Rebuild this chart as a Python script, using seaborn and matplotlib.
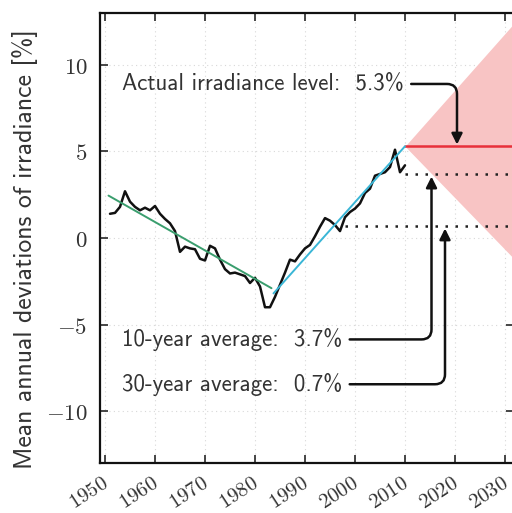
import matplotlib
matplotlib.use("Agg")
import matplotlib.pyplot as plt
import matplotlib.transforms as mtransforms
import seaborn as sns
import numpy as np
import pandas as pd

# ---- data ----
years = list(range(1951, 2011))
irradiance = [1.4, 1.45, 1.8, 2.7, 2.1, 1.8, 1.6, 1.75, 1.6, 1.85,
              1.4, 1.1, 0.85, 0.4, -0.8, -0.5, -0.6, -0.65, -1.2, -1.3,
              -0.45, -0.6, -1.25, -1.8, -2.05, -2.0, -2.1, -2.2, -2.6, -2.3,
              -2.8, -4.0, -4.0, -3.4, -2.7, -2.0, -1.25, -1.35, -0.95, -0.6,
              -0.4, 0.1, 0.65, 1.15, 1.0, 0.75, 0.4, 1.2, 1.5, 1.7,
              2.0, 2.6, 2.85, 3.6, 3.7, 3.8, 4.1, 5.1, 3.8, 4.2]
trend1_years = [1950.7, 1983.3]
trend1_vals = [2.45, -2.9]
trend2_years = [1983.7, 2010.0]
trend2_vals = [-3.2, 5.3]
fan_years = [2010.0, 2031.8]
fan_upper = [5.3, 12.4]
fan_lower = [5.3, -1.2]
actual_level = 5.3
avg10 = 3.7
avg10_start = 2010.0
avg30 = 0.7
avg30_start = 1998.0
xticks = [1950, 1960, 1970, 1980, 1990, 2000, 2010, 2020, 2030]
yticks = [-10, -5, 0, 5, 10]
labels = ["Actual irradiance level:  5.3%", "10-year average:  3.7%", "30-year average:  0.7%"]

df = pd.DataFrame({"year": years, "value": irradiance})

sns.set_style("ticks")
plt.rcParams["mathtext.fontset"] = "cm"

fig = plt.figure(figsize=(5.12, 5.13), dpi=100)
ax = fig.add_axes([100 / 512, 50 / 513, 414 / 512, 450 / 513])
xmax = 2031.8
ax.set_xlim(1949, xmax)
ax.set_ylim(-13, 13)

# grid
for t in xticks:
    ax.axvline(t, color="#d8d8d8", lw=0.8, ls=(0, (1, 3)), zorder=0)
for t in yticks:
    ax.axhline(t, color="#d8d8d8", lw=0.8, ls=(0, (1, 3)), zorder=0)

# fan
ax.fill_between(fan_years, fan_lower, fan_upper, color="#f8c4c4", lw=0, zorder=1)
ax.plot([fan_years[0], xmax], [actual_level, actual_level], color="#e8303a", lw=1.8, zorder=3)
ax.plot([avg10_start, xmax], [avg10, avg10], color="#222222", lw=1.8, ls=(0, (1, 3)), zorder=3)
ax.plot([avg30_start, xmax], [avg30, avg30], color="#222222", lw=1.8, ls=(0, (1, 3)), zorder=3)

sns.lineplot(data=df, x="year", y="value", color="#111111", lw=1.8, ax=ax, zorder=4)
sns.lineplot(x=trend1_years, y=trend1_vals, color="#3a9e6e", lw=1.4, ax=ax, zorder=5)
sns.lineplot(x=trend2_years, y=trend2_vals, color="#3ab6d6", lw=1.4, ax=ax, zorder=5)

# annotations
tfont = dict(family=["cmss10", "DejaVu Sans"], fontsize=16.5, color="#333333")
ap = dict(arrowstyle="-|>", lw=1.8, color="#111111", mutation_scale=16, shrinkA=3, shrinkB=0)
cs = "angle,angleA=0,angleB=90,rad=10"
ax.annotate(labels[0], xy=(2020.4, actual_level + 0.1), xytext=(1953.4, 8.9),
            ha="left", va="center", **tfont,
            arrowprops=dict(ap, relpos=(1, 0.5), connectionstyle=cs))
ax.annotate(labels[1], xy=(2015.3, avg10 - 0.15), xytext=(1953.4, -5.86),
            ha="left", va="center", **tfont,
            arrowprops=dict(ap, relpos=(1, 0.5), connectionstyle=cs))
ax.annotate(labels[2], xy=(2018.0, avg30 - 0.15), xytext=(1953.4, -8.45),
            ha="left", va="center", **tfont,
            arrowprops=dict(ap, relpos=(1, 0.5), connectionstyle=cs))

# axes styling
ax.set_xticks(xticks)
ax.set_yticks(yticks)
ax.set_xticklabels([r"$%d$" % t for t in xticks], rotation=33, ha="right", rotation_mode="anchor",
                   fontsize=15, color="#333333")
ax.set_yticklabels([r"$%d$" % t for t in yticks], fontsize=16.5, color="#333333")
ax.tick_params(direction="in", length=6, width=1.2, top=True, right=True, pad=9)
ax.tick_params(axis="x", pad=7)
offset = mtransforms.ScaledTranslation(-4 / 100, 0, fig.dpi_scale_trans)
for lab in ax.get_xticklabels():
    lab.set_transform(lab.get_transform() + offset)
for s in ax.spines.values():
    s.set_linewidth(1.6)
    s.set_color("#111111")
ax.set_xlabel("")
ax.set_ylabel("Mean annual deviations of irradiance [%]", family=["cmss10", "DejaVu Sans"],
              fontsize=18.5, color="#333333")
ax.yaxis.set_label_coords(-0.15, 0.475)

fig.savefig("out.png", dpi=100)
